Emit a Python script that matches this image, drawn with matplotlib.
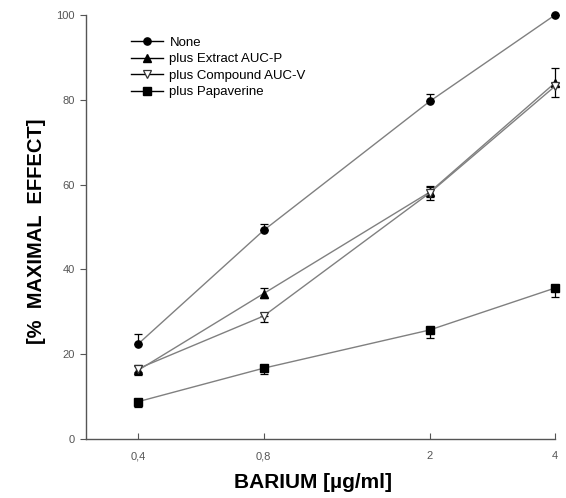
import matplotlib
matplotlib.use("Agg")
import matplotlib.pyplot as plt
from matplotlib.ticker import FixedLocator, NullLocator

plt.rcParams['font.family'] = ['Liberation Sans', 'DejaVu Sans']

barium = [0.4, 0.8, 2, 4]
tick_labels = ["0,4", "0,8", "2", "4"]

none_vals = [22.4, 49.2, 79.6, 100.0]
none_lo = [0, 0, 0, 0]
none_hi = [2.4, 1.4, 1.8, 0]

extract_vals = [16.2, 34.3, 58.2, 84.0]
extract_lo = [1.0, 1.1, 1.2, 0]
extract_hi = [1.0, 1.2, 1.2, 3.6]

compound_vals = [16.6, 29.0, 58.0, 83.2]
compound_lo = [0.8, 1.5, 1.6, 2.6]
compound_hi = [0.8, 0, 1.6, 0]

papav_vals = [8.8, 16.7, 25.7, 35.6]
papav_lo = [1.3, 1.4, 2.0, 2.1]
papav_hi = [0, 0, 0, 0]

fig = plt.figure(figsize=(5.66, 4.98), dpi=100)
ax = fig.add_axes([0.152, 0.1185, 0.8286, 0.8514])

line_color = '#808080'
series = [
    ("None", none_vals, none_lo, none_hi, dict(marker='o', ms=5.2, mfc='black', mec='black')),
    ("plus Extract AUC-P", extract_vals, extract_lo, extract_hi, dict(marker='^', ms=5.8, mfc='black', mec='black')),
    ("plus Compound AUC-V", compound_vals, compound_lo, compound_hi, dict(marker='v', ms=5.8, mfc='white', mec='#333333', mew=0.9)),
    ("plus Papaverine", papav_vals, papav_lo, papav_hi, dict(marker='s', ms=5.2, mfc='black', mec='black')),
]

handles = []
for label, vals, lo, hi, mk in series:
    ax.errorbar(barium, vals, yerr=[lo, hi], fmt='none', ecolor='black',
                elinewidth=0.9, capsize=3, capthick=0.9, clip_on=False, zorder=3)
    h, = ax.plot(barium, vals, color=line_color, lw=1.0, clip_on=False, zorder=4,
                 label=label, **mk)
    handles.append(h)

ax.set_xscale('log')
ax.set_xlim(0.3, 4)
ax.set_ylim(0, 100)
ax.xaxis.set_major_locator(FixedLocator(barium))
ax.xaxis.set_minor_locator(NullLocator())
ax.set_xticklabels(tick_labels)
ax.set_yticks([0, 20, 40, 60, 80, 100])

for s in ['top', 'right']:
    ax.spines[s].set_visible(False)
for s in ['left', 'bottom']:
    ax.spines[s].set_color('#555555')
    ax.spines[s].set_linewidth(1.0)

ax.tick_params(axis='x', direction='in', length=4, width=0.8, colors='#555555',
               labelsize=8, labelcolor='#555555', pad=9)
ax.tick_params(axis='y', direction='out', length=4, width=0.8, colors='#555555',
               labelsize=8, labelcolor='#555555', pad=4)

ax.set_xlabel("BARIUM [µg/ml]", fontsize=15, fontweight='bold', labelpad=8)
ax.xaxis.set_label_coords(0.485, -0.08)
ax.set_ylabel("[%  MAXIMAL  EFFECT]", fontsize=14.5, fontweight='bold')
ax.yaxis.set_label_coords(-0.085, 0.49)

leg = ax.legend(handles=handles, loc='upper left', bbox_to_anchor=(0.085, 0.962),
                frameon=False, fontsize=9.5, handlelength=2.4, handletextpad=0.5,
                labelspacing=0.33, borderaxespad=0)
for line in leg.get_lines():
    line.set_color('black')

fig.savefig("out.png", dpi=100)
